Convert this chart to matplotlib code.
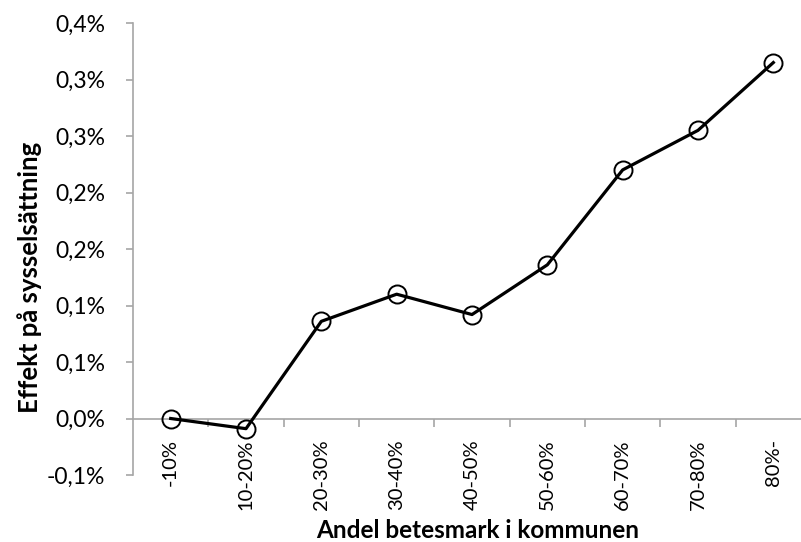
import matplotlib.pyplot as plt
from matplotlib.ticker import FuncFormatter, FixedLocator
from decimal import Decimal, ROUND_HALF_UP

plt.rcParams['font.family'] = ['Lato', 'DejaVu Sans']

categories = ['-10%', '10-20%', '20-30%', '30-40%', '40-50%', '50-60%', '60-70%', '70-80%', '80%-']
effect = [0.0, -0.009, 0.086, 0.110, 0.092, 0.136, 0.220, 0.255, 0.315]  # percent
yticks = [-0.05, 0.0, 0.05, 0.10, 0.15, 0.20, 0.25, 0.30, 0.35]

axis_gray = '#a6a6a6'


def pct_fmt(v, pos):
    # round half away from zero, like the spreadsheet does
    d = Decimal(str(round(v, 6))).quantize(Decimal('0.1'), rounding=ROUND_HALF_UP)
    return f'{d}%'.replace('.', ',')


fig = plt.figure(figsize=(8.01, 5.42), dpi=100)
ax = fig.add_axes([133 / 801, 67 / 542, 678 / 801, 452 / 542])

x = list(range(len(categories)))
ax.plot(x, effect, color='black', linewidth=2.3, marker='o', markersize=13,
        markerfacecolor='none', markeredgecolor='black', markeredgewidth=1.4,
        clip_on=False, zorder=3)

ax.set_xlim(-0.5, len(categories) - 0.5)
ax.set_ylim(yticks[0], yticks[-1])

# y axis
ax.set_yticks(yticks)
ax.yaxis.set_major_formatter(FuncFormatter(pct_fmt))
ax.tick_params(axis='y', direction='out', length=5, width=1.2, color=axis_gray,
               labelsize=16.5, pad=15)

# x axis at zero, ticks between categories
ax.spines['bottom'].set_position(('data', 0))
ax.set_xticks(x)
ax.set_xticklabels(categories, rotation=90, va='top')
ax.xaxis.set_minor_locator(FixedLocator([i + 0.5 for i in x]))
ax.tick_params(axis='x', which='major', length=0, labelsize=14.5, pad=15)
ax.tick_params(axis='x', which='minor', direction='out', length=6, width=1.2, color=axis_gray)

for side in ['top', 'right']:
    ax.spines[side].set_visible(False)
for side in ['left', 'bottom']:
    ax.spines[side].set_color(axis_gray)
    ax.spines[side].set_linewidth(1.2)

fig.text(478 / 801, 1 - 530 / 542, 'Andel betesmark i kommunen', ha='center', va='center',
         fontsize=17.5, fontweight='bold')
fig.text(30 / 801, 1 - 277 / 542, 'Effekt på sysselsättning', ha='center', va='center',
         rotation=90, fontsize=18.5, fontweight='bold')

fig.savefig('out.png', dpi=100)
